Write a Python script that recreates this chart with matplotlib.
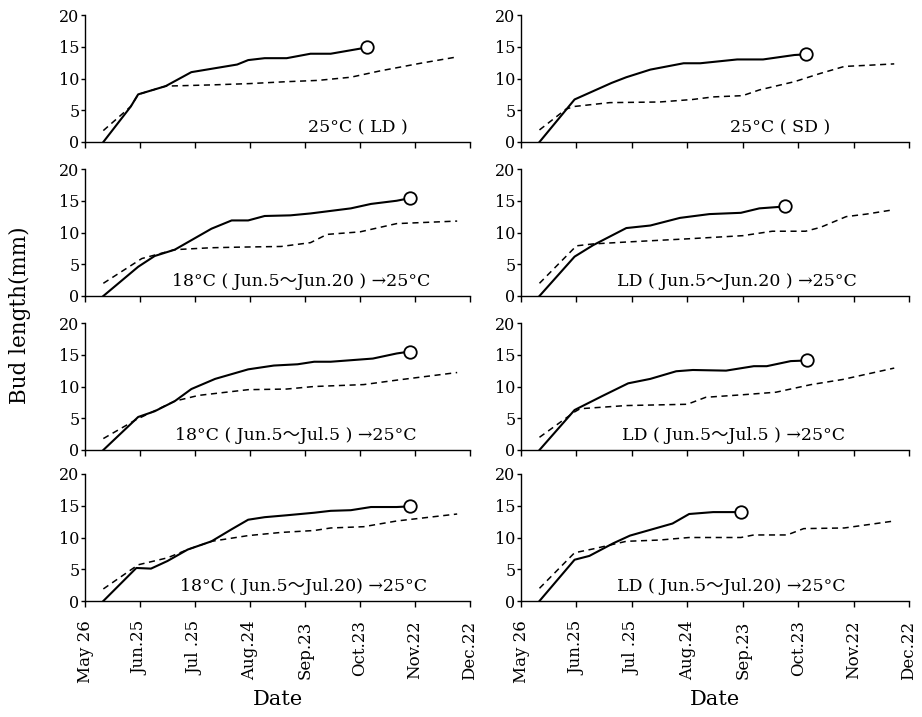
import matplotlib
matplotlib.use("Agg")
import matplotlib.pyplot as plt

# Days counted from May 26
tick_days = [0, 30, 60, 90, 120, 150, 180, 210]
tick_labels = ["May 26", "Jun.25", "Jul .25", "Aug.24", "Sep.23", "Oct.23", "Nov.22", "Dec.22"]
y_ticks = [0, 5, 10, 15, 20]

# 25°C long day
ld25_solid_days = [10, 25, 29, 44, 58, 83, 89, 98, 110, 123, 134, 148, 154]
ld25_solid_vals = [0, 5.6, 7.5, 8.8, 11.0, 12.2, 12.9, 13.2, 13.2, 13.9, 13.9, 14.6, 14.9]
ld25_dash_days = [10, 25, 29, 44, 70, 90, 110, 127, 145, 161, 183, 203]
ld25_dash_vals = [1.8, 5.6, 7.5, 8.8, 9.0, 9.2, 9.5, 9.7, 10.2, 11.2, 12.4, 13.4]

# 25°C short day
sd25_solid_days = [10, 29, 49, 57, 70, 88, 97, 117, 131, 148, 154]
sd25_solid_vals = [0, 6.7, 9.3, 10.2, 11.4, 12.4, 12.4, 13.0, 13.0, 13.7, 13.8]
sd25_dash_days = [10, 24.5, 29, 48, 75, 93, 104, 120, 129, 148, 162, 175, 189, 202]
sd25_dash_vals = [1.9, 5.2, 5.6, 6.2, 6.3, 6.7, 7.1, 7.3, 8.2, 9.5, 10.8, 11.9, 12.1, 12.3]

# 18°C Jun.5-Jun.20, then 25°C
t18_jun20_solid_days = [10, 29, 38, 49, 69, 80, 89, 98, 112, 123, 134, 145, 156, 170, 177]
t18_jun20_solid_vals = [0, 4.6, 6.3, 7.3, 10.6, 11.9, 11.9, 12.6, 12.7, 13.0, 13.4, 13.8, 14.5, 15.0, 15.4]
t18_jun20_dash_days = [10, 31, 49, 69, 85, 107, 123, 132, 150, 170, 203]
t18_jun20_dash_vals = [2.0, 5.9, 7.3, 7.6, 7.7, 7.8, 8.4, 9.7, 10.1, 11.4, 11.8]

# LD Jun.5-Jun.20, then 25°C
ld_jun20_solid_days = [10, 29, 39, 57, 70, 86, 102, 119, 129, 143]
ld_jun20_solid_vals = [0, 6.2, 8.0, 10.7, 11.1, 12.3, 12.9, 13.1, 13.8, 14.1]
ld_jun20_dash_days = [10, 30, 39, 57, 90, 120, 136, 154, 162, 176, 187, 202]
ld_jun20_dash_vals = [2.0, 7.9, 8.2, 8.5, 9.0, 9.5, 10.2, 10.2, 10.8, 12.5, 12.9, 13.6]

# 18°C Jun.5-Jul.5, then 25°C
t18_jul5_solid_days = [10, 29, 38, 49, 58, 71, 89, 103, 116, 125, 134, 157, 170, 177]
t18_jul5_solid_vals = [0, 5.2, 6.1, 7.7, 9.6, 11.2, 12.7, 13.3, 13.5, 13.9, 13.9, 14.4, 15.2, 15.5]
t18_jul5_dash_days = [10, 28, 49, 62, 89, 110, 125, 152, 170, 203]
t18_jul5_dash_vals = [1.8, 4.8, 7.7, 8.6, 9.5, 9.6, 10.0, 10.3, 11.0, 12.2]

# LD Jun.5-Jul.5, then 25°C
ld_jul5_solid_days = [10, 29, 44, 58, 70, 84, 93, 111, 126, 133, 146, 155]
ld_jul5_solid_vals = [0, 6.3, 8.5, 10.5, 11.2, 12.4, 12.6, 12.5, 13.2, 13.2, 14.0, 14.1]
ld_jul5_dash_days = [10, 29, 32, 57, 90, 100, 120, 138, 157, 174, 202]
ld_jul5_dash_vals = [2.0, 6.0, 6.5, 7.0, 7.2, 8.3, 8.7, 9.1, 10.3, 11.1, 12.9]

# 18°C Jun.5-Jul.20, then 25°C
t18_jul20_solid_days = [10, 28, 36, 45, 56, 69, 80, 89, 98, 110, 125, 134, 145, 156, 170, 177]
t18_jul20_solid_vals = [0, 5.2, 5.1, 6.3, 8.1, 9.4, 11.3, 12.8, 13.2, 13.5, 13.9, 14.2, 14.3, 14.8, 14.8, 14.9]
t18_jul20_dash_days = [10, 29, 45, 56, 69, 89, 107, 125, 134, 152, 170, 203]
t18_jul20_dash_vals = [1.9, 5.7, 6.8, 8.1, 9.4, 10.3, 10.8, 11.1, 11.5, 11.7, 12.6, 13.7]

# LD Jun.5-Jul.20, then 25°C
ld_jul20_solid_days = [10, 29, 37, 50, 59, 82, 91, 104, 119]
ld_jul20_solid_vals = [0, 6.5, 7.1, 9.1, 10.3, 12.2, 13.7, 14.0, 14.0]
ld_jul20_dash_days = [10, 29, 39, 57, 75, 91, 119, 126, 144, 153, 175, 202]
ld_jul20_dash_vals = [2.0, 7.6, 8.2, 9.4, 9.6, 10.0, 10.0, 10.4, 10.4, 11.4, 11.5, 12.6]

panel_titles = [
    "25°C ( LD )", "25°C ( SD )",
    "18°C ( Jun.5～Jun.20 ) →25°C", "LD ( Jun.5～Jun.20 ) →25°C",
    "18°C ( Jun.5～Jul.5 ) →25°C", "LD ( Jun.5～Jul.5 ) →25°C",
    "18°C ( Jun.5～Jul.20) →25°C", "LD ( Jun.5～Jul.20) →25°C",
]
title_days = [149, 140, 118, 117, 115, 115, 119, 114]

panels = [
    (ld25_solid_days, ld25_solid_vals, ld25_dash_days, ld25_dash_vals),
    (sd25_solid_days, sd25_solid_vals, sd25_dash_days, sd25_dash_vals),
    (t18_jun20_solid_days, t18_jun20_solid_vals, t18_jun20_dash_days, t18_jun20_dash_vals),
    (ld_jun20_solid_days, ld_jun20_solid_vals, ld_jun20_dash_days, ld_jun20_dash_vals),
    (t18_jul5_solid_days, t18_jul5_solid_vals, t18_jul5_dash_days, t18_jul5_dash_vals),
    (ld_jul5_solid_days, ld_jul5_solid_vals, ld_jul5_dash_days, ld_jul5_dash_vals),
    (t18_jul20_solid_days, t18_jul20_solid_vals, t18_jul20_dash_days, t18_jul20_dash_vals),
    (ld_jul20_solid_days, ld_jul20_solid_vals, ld_jul20_dash_days, ld_jul20_dash_vals),
]

plt.rcParams["font.family"] = ["DejaVu Serif", "Noto Sans CJK JP"]

W, H = 922, 717
fig = plt.figure(figsize=(W / 100, H / 100), dpi=100)

col_left = [85, 521]
col_width = [385, 388]
row_top = [15, 169, 323, 474]
row_height = 127

for i, (sd, sv, dd, dv) in enumerate(panels):
    r, c = divmod(i, 2)
    left = col_left[c] / W
    bottom = (H - row_top[r] - row_height) / H
    ax = fig.add_axes([left, bottom, col_width[c] / W, row_height / H])

    ax.plot(dd, dv, color="black", lw=1.1, dashes=(4, 3))
    ax.plot(sd, sv, color="black", lw=1.5)
    ax.plot(sd[-1], sv[-1], marker="o", ms=9, mfc="white", mec="black",
            mew=1.3, zorder=5, clip_on=False)

    ax.text(title_days[i], 2.3, panel_titles[i], ha="center", va="center",
            fontsize=12.5)

    ax.set_xlim(0, 210)
    ax.set_ylim(0, 20)
    ax.set_xticks(tick_days)
    ax.set_yticks(y_ticks)
    ax.spines["top"].set_visible(False)
    ax.spines["right"].set_visible(False)
    ax.spines["left"].set_linewidth(1.0)
    ax.spines["bottom"].set_linewidth(1.0)
    ax.tick_params(axis="y", direction="out", length=3, width=1.0,
                   labelsize=11.5, pad=1)
    ax.tick_params(axis="x", direction="out", length=4, width=1.0, pad=10)
    if r == 3:
        ax.set_xticklabels(tick_labels, rotation=90, fontsize=12)
        ax.set_xlabel("Date", fontsize=15, labelpad=5)
    else:
        ax.set_xticklabels([])

fig.text(20 / W, 1 - 315 / H, "Bud length(mm)", rotation=90, ha="center",
         va="center", fontsize=15.5)

fig.savefig("out.png", dpi=100)
